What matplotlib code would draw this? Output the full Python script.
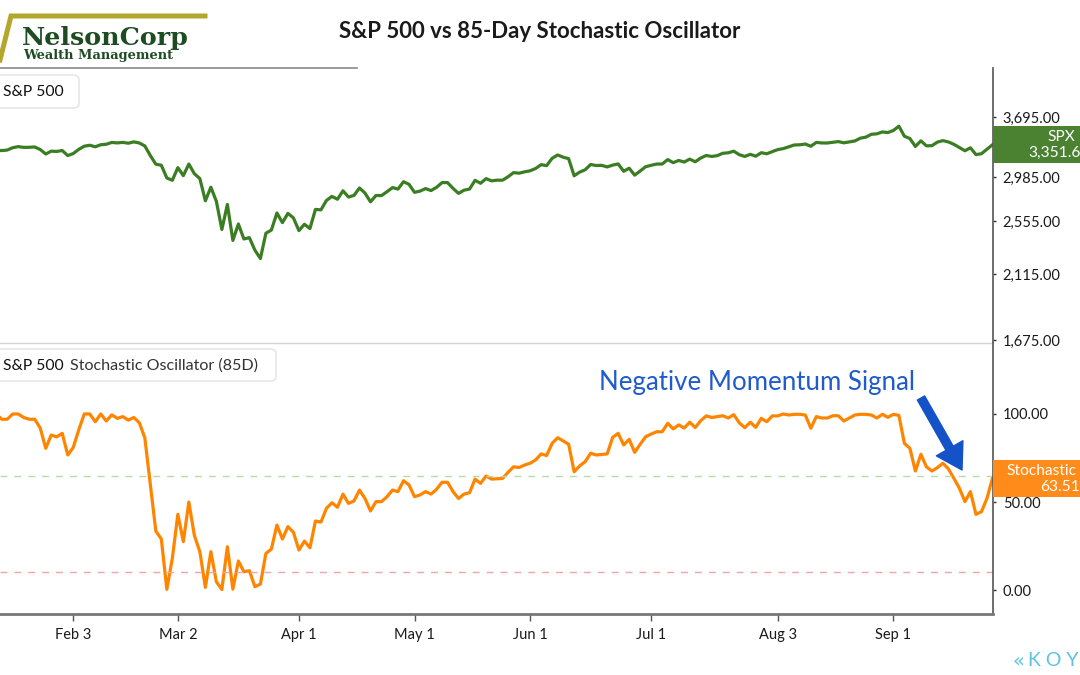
import matplotlib
matplotlib.use("Agg")
import matplotlib.pyplot as plt
import numpy as np
import pandas as pd
from matplotlib.patches import FancyBboxPatch, Rectangle, FancyArrowPatch
from matplotlib.lines import Line2D
from matplotlib.ticker import FixedLocator, NullLocator, FuncFormatter

plt.rcParams['font.family'] = ['Lato', 'DejaVu Sans']

# trading days shown on the chart (May 25 and Jul 3 appear as flat points)
holidays = ['2020-01-20', '2020-02-17', '2020-04-10', '2020-09-07']
dates = pd.bdate_range('2020-01-13', '2020-09-28', freq='C', holidays=holidays)

# S&P 500 closes, read month by month
spx_jan = [3288.1, 3283.2, 3289.3, 3316.8, 3329.6, 3320.8, 3321.8, 3325.5, 3295.5, 3243.6,
           3276.2, 3273.4, 3283.7, 3225.5]
spx_feb = [3248.9, 3297.6, 3334.7, 3345.8, 3327.7, 3352.1, 3357.8, 3379.5, 3373.9, 3380.2,
           3370.3, 3386.2, 3373.2, 3337.8, 3225.9, 3128.2, 3116.4, 2978.8, 2954.2]
spx_mar = [3090.2, 3003.4, 3130.1, 3023.9, 2972.4, 2746.6, 2882.2, 2741.4, 2480.6, 2711.0,
           2386.1, 2529.2, 2398.1, 2409.4, 2304.9, 2237.4, 2447.3, 2475.6, 2630.1, 2541.5,
           2626.7, 2584.6]
spx_apr = [2470.5, 2526.9, 2488.7, 2663.7, 2659.4, 2750.0, 2789.8, 2761.6, 2846.1, 2783.4,
           2799.6, 2874.6, 2823.2, 2736.6, 2799.3, 2797.8, 2836.7, 2878.5, 2863.4, 2939.5,
           2912.4]
spx_may = [2830.7, 2842.7, 2868.4, 2848.4, 2881.2, 2929.8, 2930.3, 2870.1, 2820.0, 2852.5,
           2863.7, 2953.9, 2922.9, 2971.6, 2948.5, 2955.5, 2955.5, 2991.8, 3036.1, 3029.7,
           3044.3]
spx_jun = [3055.7, 3080.8, 3122.9, 3112.4, 3193.9, 3232.4, 3207.2, 3190.1, 3002.1, 3041.3,
           3066.6, 3124.7, 3113.5, 3115.3, 3097.7, 3117.9, 3131.3, 3050.3, 3083.8, 3009.1,
           3053.2, 3100.3]
spx_jul = [3115.9, 3130.0, 3130.0, 3179.7, 3145.3, 3169.9, 3152.1, 3185.0, 3155.2, 3197.5,
           3226.6, 3215.6, 3224.7, 3251.8, 3257.3, 3276.0, 3235.7, 3215.6, 3239.4, 3218.4,
           3258.4, 3246.2, 3271.1]
spx_aug = [3294.6, 3306.5, 3327.8, 3349.2, 3351.3, 3360.5, 3333.7, 3380.4, 3373.4, 3372.9,
           3382.0, 3389.8, 3374.9, 3385.5, 3397.2, 3431.3, 3443.6, 3478.7, 3484.6, 3508.0,
           3500.3]
spx_sep = [3526.7, 3580.8, 3455.1, 3427.0, 3331.8, 3399.0, 3339.2, 3341.0, 3383.5, 3401.2,
           3385.5, 3357.0, 3319.5, 3281.1, 3315.6, 3236.9, 3246.6, 3298.5, 3351.6]

# 85-day stochastic oscillator
stoch_jan = [100, 97, 97, 100, 100, 98, 97, 97, 92, 80.5, 88, 87, 89, 76.7]
stoch_feb = [81, 91, 100, 100, 95.6, 100, 96, 99.5, 97.5, 98.5, 96.5, 98, 95, 86.5, 60,
             33.5, 29, 0.4, 18]
stoch_mar = [43, 27.5, 50, 31, 21.8, 1.5, 21.8, 4.7, 0.3, 24.6, 0.5, 16.5, 10.4, 11, 1.9,
             3.4, 20.8, 23.3, 36.9, 29, 36, 32.8]
stoch_apr = [22.7, 27.8, 24, 39.2, 38.6, 46.4, 49.6, 47, 54.5, 49.2, 50.6, 56.8, 52, 44.9,
             50.2, 50.2, 53, 56.8, 55.9, 62.1, 59.7]
stoch_may = [53, 54, 55.9, 54.5, 57.2, 61.2, 61.2, 55.9, 52, 54.5, 55.3, 63, 60.6, 64.8, 63,
             63.2, 63.4, 66.9, 70, 69.6, 71]
stoch_jun = [72, 73.9, 77.3, 76.4, 83.3, 86.5, 84.7, 82.8, 67.2, 70.5, 72.9, 77.7, 76.7, 77,
             77.3, 86.7, 89, 82.4, 85.6, 78.2, 82.8, 87.1]
stoch_jul = [88.6, 89.9, 89.9, 94.7, 91.5, 93.8, 92, 95.3, 92.3, 96.2, 98.9, 98, 98.5, 99,
             97.7, 99.6, 95, 92.2, 95.3, 92.4, 97.5, 95.6, 98.9]
stoch_aug = [98.9, 100, 99.4, 99.8, 99.8, 99.4, 91.9, 98.5, 97.7, 97.7, 99, 99, 96, 97.7,
             99.4, 99.8, 99.8, 99.4, 97.7, 99.8, 98.1]
stoch_sep = [99.8, 99.2, 83.3, 80.5, 67.6, 77.1, 70, 67.6, 69.5, 72, 68.8, 63.4, 57.8, 50.2,
             55.9, 43, 44.5, 52, 63.51]

spx = spx_jan + spx_feb + spx_mar + spx_apr + spx_may + spx_jun + spx_jul + spx_aug + spx_sep
stoch = (stoch_jan + stoch_feb + stoch_mar + stoch_apr + stoch_may + stoch_jun + stoch_jul
         + stoch_aug + stoch_sep)

tick_dates = ['2020-02-03', '2020-03-02', '2020-04-01', '2020-05-01', '2020-06-01',
              '2020-07-01', '2020-08-03', '2020-09-01']
tick_labels = ['Feb 3', 'Mar 2', 'Apr 1', 'May 1', 'Jun 1', 'Jul 1', 'Aug 3', 'Sep 1']
spx_ticks = [1675, 2115, 2555, 2985, 3695]
stoch_ticks = [0, 50, 100]
upper_band = 65
lower_band = 10

GREEN = '#3a7d23'
ORANGE = '#ff8500'
W, H = 1080, 675


def fpos(x, y):
    # pixel (from top-left) -> figure fraction
    return x / W, 1 - y / H


def axbox(top, bottom, left=0, right=993):
    return [left / W, 1 - bottom / H, (right - left) / W, (bottom - top) / H]


fig = plt.figure(figsize=(10.8, 6.75), dpi=100)
ax1 = fig.add_axes(axbox(68, 343))
ax2 = fig.add_axes(axbox(343, 614))

x = np.arange(len(dates))
ticks = dates.get_indexer(pd.to_datetime(tick_dates))

# upper panel: S&P 500 on log scale
ax1.plot(x, spx, color=GREEN, lw=2.3, solid_joinstyle='round')
ax1.set_yscale('log')
ax1.set_ylim(1657, 4403)
ax1.yaxis.set_major_locator(FixedLocator(spx_ticks))
ax1.yaxis.set_minor_locator(NullLocator())
ax1.yaxis.set_major_formatter(FuncFormatter(lambda v, p: f'{v:,.2f}'))
ax1.set_xticks([])

# lower panel: stochastic
ax2.plot(x, stoch, color=ORANGE, lw=2.3, solid_joinstyle='round')
ax2.axhline(upper_band, color='#b7dcaa', lw=1, ls=(0, (5, 5)))
ax2.axhline(lower_band, color='#f0a6a6', lw=1, ls=(0, (5, 5)))
ax2.set_ylim(-13.6, 140.3)
ax2.set_yticks(stoch_ticks)
ax2.yaxis.set_major_formatter(FuncFormatter(lambda v, p: f'{v:.2f}'))
ax2.set_xticks(ticks)
ax2.set_xticklabels(tick_labels)

for ax in (ax1, ax2):
    ax.set_xlim(0.69, 181.1)
    ax.yaxis.tick_right()
    ax.tick_params(axis='y', direction='out', length=2, width=1, color='#333',
                   labelcolor='#1a1a1a', labelsize=10.5, pad=5)
    ax.spines['left'].set_visible(False)
    ax.spines['top'].set_visible(False)
    ax.spines['right'].set_color('#555555')
    ax.spines['right'].set_linewidth(1.2)
    ax.set_facecolor('none')

ax1.spines['bottom'].set_color('#d4d4d4')
ax1.spines['bottom'].set_linewidth(1)
ax2.spines['bottom'].set_color('#777777')
ax2.spines['bottom'].set_linewidth(2)
ax2.tick_params(axis='x', direction='out', length=5, width=1, color='#555',
                labelcolor='#1a1a1a', labelsize=10.5, pad=5)

# title
fig.text(*fpos(540, 31), 'S&P 500 vs 85-Day Stochastic Oscillator', ha='center', va='center',
         fontsize=16, fontweight='bold', color='#1a1a1a')

# legend boxes
for (x0, y0, x1, y1) in [(-10, 75, 79, 108), (-10, 349, 276, 381)]:
    bx, by = fpos(x0, y1)
    fig.patches.append(FancyBboxPatch((bx, by), (x1 - x0) / W, (y1 - y0) / H,
                                      boxstyle='round,pad=0,rounding_size=0.006',
                                      transform=fig.transFigure, facecolor='white',
                                      edgecolor='#e2e2e2', lw=1))
fig.text(*fpos(3, 92), 'S&P 500', ha='left', va='center', fontsize=11.3, color='#111111')
fig.text(*fpos(3, 366), 'S&P 500', ha='left', va='center', fontsize=11.3, color='#111111')
fig.text(*fpos(70, 366), 'Stochastic Oscillator (85D)', ha='left', va='center',
         fontsize=11.6, color='#333333')

# value badges on the right
for (y0, y1, col, top, bot, xt, xb) in [(126, 163, '#4b8232', 'SPX', '3,351.6', 1047, 1028),
                                         (460, 497, '#ff8c1a', 'Stochastic', '63.51', 1006, 1040)]:
    bx, by = fpos(993, y1)
    fig.patches.append(Rectangle((bx, by), 100 / W, (y1 - y0) / H, transform=fig.transFigure,
                                 facecolor=col, edgecolor='none'))
    fig.text(*fpos(xt, y0 + 11), top, ha='left', va='center', fontsize=11.2, color='white')
    fig.text(*fpos(xb, y0 + 27), bot, ha='left', va='center', fontsize=11.2, color='white')

# annotation
fig.text(*fpos(599, 383), 'Negative Momentum Signal', ha='left', va='center', fontsize=18.6,
         color='#1f5bcc')
arrow = FancyArrowPatch(fpos(921, 398), fpos(962, 470), transform=fig.transFigure,
                        arrowstyle='simple,head_length=0.45,head_width=0.55,tail_width=0.15',
                        mutation_scale=40, color='#1452c8', shrinkA=0, shrinkB=0)
fig.patches.append(arrow)

# logo
lx, ly = zip(fpos(0, 60), fpos(11, 16), fpos(205, 16))
fig.lines.append(Line2D(lx, ly, transform=fig.transFigure, color='#b5a62c', lw=3.6,
                        solid_joinstyle='miter'))
gx, gy = zip(fpos(0, 68), fpos(357, 68))
fig.lines.append(Line2D(gx, gy, transform=fig.transFigure, color='#8a8a8a', lw=1.2))
fig.text(*fpos(22, 45), 'NelsonCorp', ha='left', va='baseline', fontsize=18.3,
         fontweight='bold', family='DejaVu Serif', color='#1d4b22')
fig.text(*fpos(23, 58.5), 'Wealth Management', ha='left', va='baseline', fontsize=9.4,
         fontweight='bold', family='DejaVu Serif', color='#1d4b22')

# watermark
fig.text(*fpos(1012, 661), '«', ha='left', va='center', fontsize=14, color='#5cc3df',
         family='DejaVu Sans')
fig.text(*fpos(1028, 661), 'K O Y', ha='left', va='center', fontsize=14,
         color='#5cc3df')

fig.savefig('out.png', dpi=100)
